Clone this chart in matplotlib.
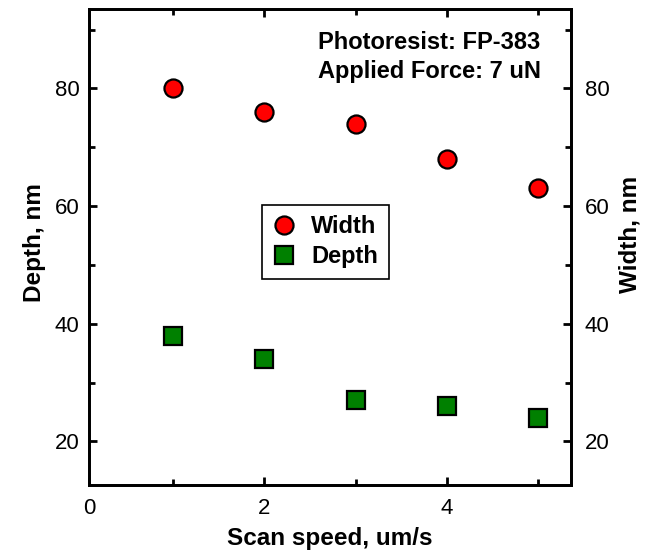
import matplotlib
matplotlib.use("Agg")
import matplotlib.pyplot as plt
from matplotlib.ticker import MultipleLocator, FixedLocator

plt.rcParams['font.family'] = ['Liberation Sans', 'DejaVu Sans']

speed = [1, 2, 3, 4, 5]
width = [80, 76, 74, 68, 63]
depth = [38, 34, 27, 26, 24]
xtick_labels = ['0', '2', '4']

fig = plt.figure(figsize=(6.46, 5.55), dpi=100)
ax = fig.add_axes([0.1385, 0.1261, 0.7449, 0.8577])
ax2 = ax.twinx()

xlim = (0.078, 5.363)
ylim = (12.6, 93.5)
ax.set_xlim(*xlim)
ax.set_ylim(*ylim)
ax2.set_ylim(*ylim)

l1, = ax2.plot(speed, width, 'o', ms=13, mfc='#ff0000', mec='black', mew=1.6, label='Width')
l2, = ax.plot(speed, depth, 's', ms=12.3, mfc='#008000', mec='black', mew=1.6, label='Depth')

for a in (ax, ax2):
    a.yaxis.set_major_locator(MultipleLocator(20))
    a.yaxis.set_minor_locator(MultipleLocator(10))
    a.tick_params(which='both', direction='in', width=2, labelsize=16)
    a.tick_params(which='major', length=6)
    a.tick_params(which='minor', length=4)
    for s in a.spines.values():
        s.set_linewidth(2)
ax.set_xticks([xlim[0], 2, 4], xtick_labels)
ax.xaxis.set_minor_locator(FixedLocator([1, 3, 5]))
ax.tick_params(axis='x', which='both', top=True, pad=9)
ax.tick_params(axis='y', pad=7)
ax2.tick_params(axis='y', pad=10)

ax.set_xlabel('Scan speed, um/s', fontsize=17.5, fontweight='bold', labelpad=6)
ax.set_ylabel('Depth, nm', fontsize=17.5, fontweight='bold', labelpad=6.5)
ax2.set_ylabel('Width, nm', fontsize=17.5, fontweight='bold', labelpad=6.5)
ax.yaxis.label.set_y(0.51)
ax2.yaxis.label.set_y(0.527)

ax.text(0.9375, 0.916, 'Photoresist: FP-383', transform=ax.transAxes,
        ha='right', va='baseline', fontsize=17, fontweight='bold')
ax.text(0.9375, 0.855, 'Applied Force: 7 uN', transform=ax.transAxes,
        ha='right', va='baseline', fontsize=17, fontweight='bold')

leg = ax2.legend(handles=[l1, l2], loc='center', bbox_to_anchor=(0.49, 0.511),
                 frameon=True, fancybox=False, edgecolor='black', framealpha=1,
                 prop={'size': 17, 'weight': 'bold'}, handletextpad=0.65, borderpad=0.45,
                 handlelength=1.0, labelspacing=0.3, borderaxespad=0)
leg.get_frame().set_linewidth(1.2)

fig.savefig('out.png', dpi=100)
